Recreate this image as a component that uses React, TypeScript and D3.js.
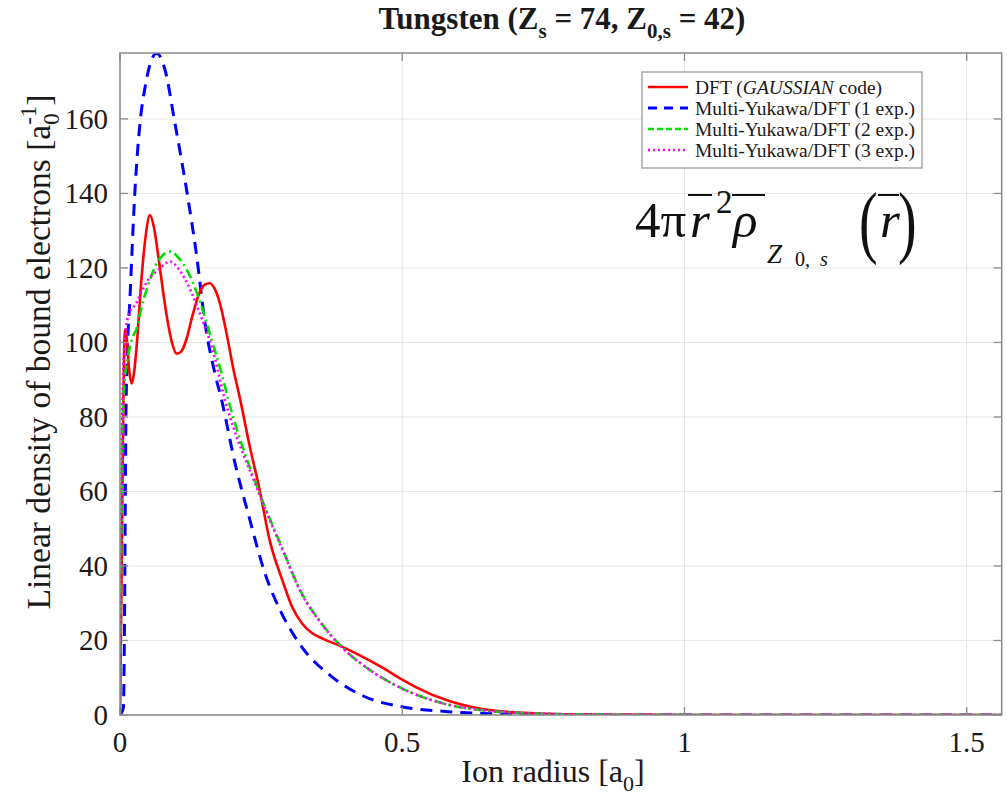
import React from "react";
import * as d3 from "d3";

// ---------- data ----------
const X_TICKS = [0, 0.5, 1, 1.5];
const Y_TICKS = [0, 20, 40, 60, 80, 100, 120, 140, 160];
const X_MAX = 1.562;
const Y_MAX = 177.7;

const dftX = [0, 0.003, 0.006, 0.009, 0.012, 0.016, 0.0207, 0.025, 0.0295, 0.038, 0.045, 0.053, 0.06, 0.068, 0.076, 0.084, 0.092, 0.1, 0.108, 0.118, 0.128, 0.14, 0.15, 0.159, 0.168, 0.177, 0.188, 0.2, 0.213, 0.23, 0.2466, 0.265, 0.288, 0.305, 0.323, 0.34, 0.359, 0.394, 0.43, 0.465, 0.5, 0.524, 0.582, 0.642, 0.7, 0.77, 0.85, 1.0, 1.2, 1.562];
const dftY = [0, 40, 85, 103.4, 101, 93, 89, 92, 99, 117, 128, 134.2, 131, 123, 114, 106, 100, 97, 97.5, 101, 107, 113, 115.5, 115.9, 114.3, 110.5, 103, 93.5, 84.6, 72, 61, 47, 36, 29, 24.5, 22, 20.5, 18.3, 15.6, 12.7, 9.5, 7.5, 3.8, 1.6, 0.7, 0.25, 0.08, 0.01, 0, 0];

const yuk1X = [0, 0.006, 0.008, 0.0095, 0.0105, 0.012, 0.0177, 0.0266, 0.0354, 0.045, 0.055, 0.065, 0.0797, 0.0974, 0.118, 0.136, 0.1506, 0.168, 0.18, 0.2037, 0.227, 0.2569, 0.2864, 0.3219, 0.375, 0.434, 0.499, 0.5816, 0.7, 0.85, 1.0, 1.562];
const yuk1Y = [0, 2, 25, 60, 80, 92, 112, 141, 158.8, 169, 175.5, 177.6, 173.2, 158.8, 140.9, 123, 105.2, 91.8, 84.6, 67.6, 54.1, 38, 27.3, 18.3, 10.3, 4.9, 2.2, 0.9, 0.2, 0.03, 0, 0];

const yuk2X = [0, 0.002, 0.004, 0.007, 0.0119, 0.0207, 0.03, 0.0384, 0.05, 0.062, 0.075, 0.0886, 0.105, 0.127, 0.1447, 0.1624, 0.18, 0.1919, 0.245, 0.2864, 0.3219, 0.357, 0.3927, 0.434, 0.493, 0.552, 0.6407, 0.75, 0.85, 1.0, 1.562];
const yuk2Y = [0, 40, 75, 88, 94, 100.7, 104, 109.6, 115.5, 120.3, 123.3, 124.4, 122.5, 116.8, 109.6, 100.7, 91.7, 84.6, 60.4, 45.2, 32.7, 24.6, 18.3, 13, 7.6, 4, 1.3, 0.35, 0.1, 0.02, 0];

const yuk3X = [0, 0.0015, 0.004, 0.008, 0.0177, 0.0266, 0.038, 0.05, 0.068, 0.0886, 0.105, 0.127, 0.1447, 0.1624, 0.186, 0.245, 0.2864, 0.3219, 0.357, 0.3927, 0.434, 0.493, 0.552, 0.6407, 0.75, 0.85, 1.0, 1.562];
const yuk3Y = [0, 35, 80, 100, 108.5, 110, 113.5, 116.8, 119.5, 121.7, 119.5, 113.3, 106.5, 98.9, 84.6, 60, 44.8, 32.5, 24.5, 18.2, 13, 7.6, 4, 1.3, 0.35, 0.1, 0.02, 0];

const SERIES_NAMES = [
  "DFT",
  "Multi-Yukawa/DFT (1 exp.)",
  "Multi-Yukawa/DFT (2 exp.)",
  "Multi-Yukawa/DFT (3 exp.)",
];

// ---------- layout ----------
const W = 1007;
const H = 798;
const PL = 120;
const PR = 1001.7;
const PT = 53;
const PB = 715;
const FONT = "'Liberation Serif', 'Times New Roman', serif";

const x = d3.scaleLinear().domain([0, X_MAX]).range([PL, PR]);
const y = d3.scaleLinear().domain([0, Y_MAX]).range([PB, PT]);

const zip = (xs: number[], ys: number[]) => xs.map((v, i) => [v, ys[i]] as [number, number]);
const line = d3
  .line<[number, number]>()
  .x((d) => x(d[0]))
  .y((d) => y(d[1]))
  .curve(d3.curveMonotoneX);

const styles = [
  { color: "#ff0000", width: 2.6, dash: "" },
  { color: "#0000ff", width: 3, dash: "12,8" },
  { color: "#00e000", width: 2.6, dash: "10,4,2,4" },
  { color: "#ff00ff", width: 2.6, dash: "2,3" },
];

const data = [zip(dftX, dftY), zip(yuk1X, yuk1Y), zip(yuk2X, yuk2Y), zip(yuk3X, yuk3Y)];

function Formula() {
  const c = "#111";
  const base = 237;
  return (
    <g fill={c}>
      <text x={635} y={base} fontSize={51}>4π</text>
      <text x={690} y={base} fontSize={51} fontStyle="italic">r</text>
      <line x1={688} x2={712} y1={195} y2={195} stroke={c} strokeWidth={2} />
      <text x={716} y={213} fontSize={33}>2</text>
      <text x={733} y={base} fontSize={51} fontStyle="italic">ρ</text>
      <line x1={732} x2={765} y1={195} y2={195} stroke={c} strokeWidth={2} />
      <text x={767} y={263} fontSize={27} fontStyle="italic">Z</text>
      <text x={795} y={266} fontSize={20}>0,</text>
      <text x={820} y={266} fontSize={20} fontStyle="italic">s</text>
      <text transform="translate(859,248) scale(0.7,1)" fontSize={80}>(</text>
      <text x={880} y={base} fontSize={51} fontStyle="italic">r</text>
      <line x1={878} x2={899} y1={195} y2={195} stroke={c} strokeWidth={2} />
      <text transform="translate(898,248) scale(0.7,1)" fontSize={80}>)</text>
    </g>
  );
}

export default function App() {
  const tickLen = 8;
  const axisColor = "#8a8a8a";
  const gridColor = "#e6e6e6";
  const textColor = "#1a1a1a";
  const legX = 642;
  const legY = 72;
  const legRows = [87, 108, 129, 150];
  const drawOrder = [1, 0, 2, 3];
  return (
    <svg
      width={W}
      height={H}
      viewBox={`0 0 ${W} ${H}`}
      style={{ position: "absolute", left: 0, top: 0, background: "#fff" }}
      fontFamily={FONT}
    >
      <defs>
        <clipPath id="plotclip">
          <rect x={PL} y={PT} width={PR - PL} height={PB - PT} />
        </clipPath>
      </defs>
      <rect x={0} y={0} width={W} height={H} fill="#fff" />
      {/* grid */}
      {X_TICKS.map((t) => (
        <line key={"gx" + t} x1={x(t)} x2={x(t)} y1={PT} y2={PB} stroke={gridColor} strokeWidth={1} />
      ))}
      {Y_TICKS.map((t) => (
        <line key={"gy" + t} x1={PL} x2={PR} y1={y(t)} y2={y(t)} stroke={gridColor} strokeWidth={1} />
      ))}

      <Formula />

      {/* curves */}
      <g clipPath="url(#plotclip)">
        {drawOrder.map((i) => (
          <path
            key={"s" + i}
            d={line(data[i]) || ""}
            fill="none"
            stroke={styles[i].color}
            strokeWidth={styles[i].width}
            strokeDasharray={styles[i].dash || undefined}
            strokeLinejoin="round"
          />
        ))}
      </g>

      {/* box + ticks */}
      <rect x={PL} y={PT} width={PR - PL} height={PB - PT} fill="none" stroke={axisColor} strokeWidth={1.5} />
      {X_TICKS.map((t) => (
        <g key={"tx" + t}>
          <line x1={x(t)} x2={x(t)} y1={PB} y2={PB - tickLen} stroke={axisColor} strokeWidth={1.3} />
          <line x1={x(t)} x2={x(t)} y1={PT} y2={PT + tickLen} stroke={axisColor} strokeWidth={1.3} />
          <text x={x(t)} y={752} textAnchor="middle" fontSize={29} fill={textColor}>
            {d3.format("~g")(t)}
          </text>
        </g>
      ))}
      {Y_TICKS.map((t) => (
        <g key={"ty" + t}>
          <line x1={PL} x2={PL + tickLen} y1={y(t)} y2={y(t)} stroke={axisColor} strokeWidth={1.3} />
          <line x1={PR} x2={PR - tickLen} y1={y(t)} y2={y(t)} stroke={axisColor} strokeWidth={1.3} />
          <text x={108} y={y(t) + 10} textAnchor="end" fontSize={29} fill={textColor}>
            {t}
          </text>
        </g>
      ))}

      {/* title */}
      <text x={562} y={29} textAnchor="middle" fontSize={31} fontWeight="bold" fill={textColor}>
        <tspan>Tungsten (Z</tspan>
        <tspan fontSize={21} dy={9}>s</tspan>
        <tspan dy={-9}> = 74, Z</tspan>
        <tspan fontSize={21} dy={9}>0,s</tspan>
        <tspan dy={-9}> = 42)</tspan>
      </text>

      {/* x label */}
      <text x={553} y={782} textAnchor="middle" fontSize={32} fill={textColor}>
        <tspan>Ion radius [a</tspan>
        <tspan fontSize={22} dy={9}>0</tspan>
        <tspan dy={-9}>]</tspan>
      </text>

      {/* y label */}
      <text
        transform={`translate(50, 352) rotate(-90)`}
        textAnchor="middle"
        fontSize={33.5}
        fill={textColor}
      >
        <tspan>Linear density of bound electrons [a</tspan>
        <tspan fontSize={23} dy={9}>0</tspan>
        <tspan fontSize={23} dx={-11.5} dy={-23}>-1</tspan>
        <tspan dy={14}>]</tspan>
      </text>

      {/* legend */}
      <rect x={legX} y={legY} width={280} height={96} fill="#fff" stroke="#9a9a9a" strokeWidth={1.3} />
      {legRows.map((ry, i) => (
        <g key={"leg" + i}>
          <line
            x1={648}
            x2={688}
            y1={ry}
            y2={ry}
            stroke={styles[i].color}
            strokeWidth={styles[i].width}
            strokeDasharray={i === 1 ? "9,7" : i === 2 ? "6,3" : styles[i].dash || undefined}
          />
          <text x={695} y={ry + 6.5} fontSize={19.5} fill={textColor}>
            {i === 0 ? (
              <>
                <tspan>DFT (</tspan>
                <tspan fontStyle="italic">GAUSSIAN</tspan>
                <tspan> code)</tspan>
              </>
            ) : (
              SERIES_NAMES[i]
            )}
          </text>
        </g>
      ))}
    </svg>
  );
}
